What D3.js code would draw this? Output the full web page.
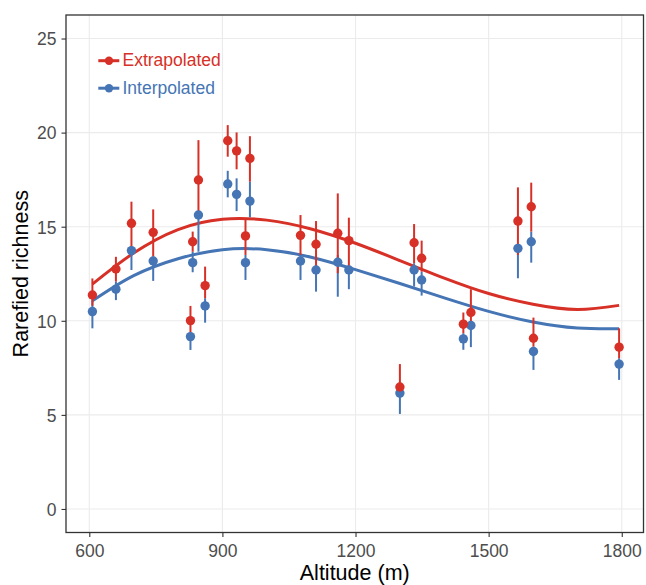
<!DOCTYPE html>
<html>
<head>
<meta charset="utf-8">
<script src="https://cdn.jsdelivr.net/npm/d3@7"></script>
<style>
  body { margin: 0; background: #fff; }
  svg { display: block; font-family: "Liberation Sans", Arial, sans-serif; }
</style>
</head>
<body>
<svg id="chart" width="646" height="585"></svg>
<script>
// sampling sites (m) and rarefied richness
const altitude = [607, 660, 695, 744, 828, 833, 846, 861, 912, 932, 952, 962, 1076, 1111, 1160, 1185, 1300, 1332, 1349, 1443, 1460, 1566, 1596, 1601, 1794];

const extrapolated     = [11.37, 12.75, 15.18, 14.7, 10.01, 14.2, 17.48, 11.87, 19.57, 19.03, 14.51, 18.63, 14.54, 14.07, 14.65, 14.26, 6.48, 14.15, 13.32, 9.82, 10.44, 15.3, 16.06, 9.07, 8.6];
const extrapolatedLow  = [10.8, 12.08, 13.67, 13.41, 9.34, 13.67, 15.62, 11.2, 18.72, 18.05, 13.5, 17.39, 13.5, 12.88, 12.53, 12.7, 6.1, 13.06, 12.61, 9.34, 9.75, 13.5, 14.74, 8.63, 8.01];
const extrapolatedHigh = [12.25, 13.4, 16.33, 15.92, 10.79, 14.74, 19.6, 12.88, 20.4, 20.01, 15.45, 19.81, 15.62, 15.3, 16.77, 15.48, 7.7, 15.14, 14.26, 10.44, 11.68, 17.09, 17.34, 10.17, 9.6];

const interpolated     = [10.49, 11.68, 13.73, 13.18, 9.16, 13.09, 15.62, 10.79, 17.27, 16.72, 13.09, 16.36, 13.18, 12.7, 13.11, 12.7, 6.16, 12.7, 12.17, 9.04, 9.75, 13.85, 14.2, 8.37, 7.7];
const interpolatedLow  = [9.6, 11.1, 12.7, 12.12, 8.45, 12.58, 13.67, 9.9, 16.56, 15.83, 12.17, 15.5, 12.17, 11.55, 11.28, 11.68, 5.05, 11.82, 11.34, 8.46, 8.6, 12.26, 13.09, 7.39, 6.86];
const interpolatedHigh = [11.1, 12.08, 13.94, 13.41, 9.36, 13.67, 15.7, 11.2, 17.97, 17.57, 13.5, 17.39, 13.5, 12.88, 13.5, 12.9, 6.5, 13.06, 12.61, 9.34, 10.0, 14.0, 14.74, 8.63, 8.01];

// fitted trend lines, read at these altitudes
const fitAltitude     = [607, 700, 800, 900, 1000, 1100, 1200, 1300, 1400, 1500, 1600, 1700, 1794];
const fitExtrapolated = [11.95, 13.6, 14.85, 15.4, 15.35, 14.88, 14.12, 13.2, 12.27, 11.45, 10.88, 10.6, 10.82];
const fitInterpolated = [11.06, 12.4, 13.3, 13.78, 13.78, 13.38, 12.72, 11.98, 11.22, 10.5, 9.94, 9.62, 9.58];

const seriesNames = ['Extrapolated', 'Interpolated'];
const seriesColors = ['#d73027', '#4575b4'];
const xTicks = [600, 900, 1200, 1500, 1800];
const yTicks = [0, 5, 10, 15, 20, 25];

const margin = { top: 15, right: 2.5, bottom: 52.5, left: 66 };
const width = 646, height = 585;
const svg = d3.select('#chart');

const x = d3.scaleLinear().domain([547.5, 1849]).range([margin.left, width - margin.right]);
const y = d3.scaleLinear().domain([-1.25, 26.25]).range([height - margin.bottom, margin.top]);

// grid
const grid = svg.append('g').attr('stroke', '#ebebeb').attr('stroke-width', 1.1);
grid.selectAll('.gx').data(xTicks).enter().append('line')
  .attr('x1', d => x(d)).attr('x2', d => x(d))
  .attr('y1', margin.top).attr('y2', height - margin.bottom);
grid.selectAll('.gy').data(yTicks).enter().append('line')
  .attr('y1', d => y(d)).attr('y2', d => y(d))
  .attr('x1', margin.left).attr('x2', width - margin.right);

// axes
const xAxis = svg.append('g')
  .attr('transform', `translate(0,${height - margin.bottom})`)
  .call(d3.axisBottom(x).tickValues(xTicks).tickFormat(d3.format('d')).tickSize(4.5).tickPadding(7.6));
const yAxis = svg.append('g')
  .attr('transform', `translate(${margin.left},0)`)
  .call(d3.axisLeft(y).tickValues(yTicks).tickFormat(d3.format('d')).tickSize(4.5).tickPadding(5));
[xAxis, yAxis].forEach(g => {
  g.select('.domain').remove();
  g.selectAll('.tick line').attr('stroke', '#333').attr('stroke-width', 1.1);
  g.selectAll('.tick text')
    .attr('fill', '#4d4d4d')
    .style('font-size', '17.5px')
    .style('font-family', '"Liberation Sans", Arial, sans-serif');
});
yAxis.selectAll('.tick text').attr('dy', '0.36em');

// trend lines
const fits = [fitExtrapolated, fitInterpolated];
const line = d3.line()
  .x((d, i) => x(fitAltitude[i]))
  .y(d => y(d))
  .curve(d3.curveNatural);
// interpolated drawn first, extrapolated over it
[1, 0].forEach(s => {
  svg.append('path')
    .attr('d', line(fits[s]))
    .attr('fill', 'none')
    .attr('stroke', seriesColors[s])
    .attr('stroke-width', 3);
});

// error bars and points
const values = [extrapolated, interpolated];
const lows = [extrapolatedLow, interpolatedLow];
const highs = [extrapolatedHigh, interpolatedHigh];
[1, 0].forEach(s => {
  svg.append('g').selectAll('line').data(altitude).enter().append('line')
    .attr('x1', d => x(d)).attr('x2', d => x(d))
    .attr('y1', (d, i) => y(lows[s][i]))
    .attr('y2', (d, i) => y(highs[s][i]))
    .attr('stroke', seriesColors[s])
    .attr('stroke-width', 2);
});
[1, 0].forEach(s => {
  svg.append('g').selectAll('circle').data(altitude).enter().append('circle')
    .attr('cx', d => x(d))
    .attr('cy', (d, i) => y(values[s][i]))
    .attr('r', 4.7)
    .attr('fill', seriesColors[s]);
});

// panel border
svg.append('rect')
  .attr('x', margin.left).attr('y', margin.top)
  .attr('width', width - margin.left - margin.right)
  .attr('height', height - margin.top - margin.bottom)
  .attr('fill', 'none')
  .attr('stroke', '#333')
  .attr('stroke-width', 1.3);

// legend
const legend = svg.append('g');
seriesNames.forEach((name, i) => {
  const ly = 60.7 + i * 27.5;
  legend.append('line')
    .attr('x1', 98.3).attr('x2', 119.3).attr('y1', ly).attr('y2', ly)
    .attr('stroke', seriesColors[i]).attr('stroke-width', 3);
  legend.append('circle')
    .attr('cx', 109).attr('cy', ly).attr('r', 4.2)
    .attr('fill', seriesColors[i]);
  legend.append('text')
    .attr('x', 122.5).attr('y', ly + 5.6)
    .attr('fill', seriesColors[i])
    .style('font-size', '17.5px')
    .text(name);
});

// axis titles
svg.append('text')
  .attr('x', (margin.left + width - margin.right) / 2)
  .attr('y', 579.5)
  .attr('text-anchor', 'middle')
  .style('font-size', '21.5px')
  .text('Altitude (m)');
svg.append('text')
  .attr('transform', `translate(28,${(margin.top + height - margin.bottom) / 2}) rotate(-90)`)
  .attr('text-anchor', 'middle')
  .style('font-size', '21.5px')
  .text('Rarefied richness');
</script>
</body>
</html>
